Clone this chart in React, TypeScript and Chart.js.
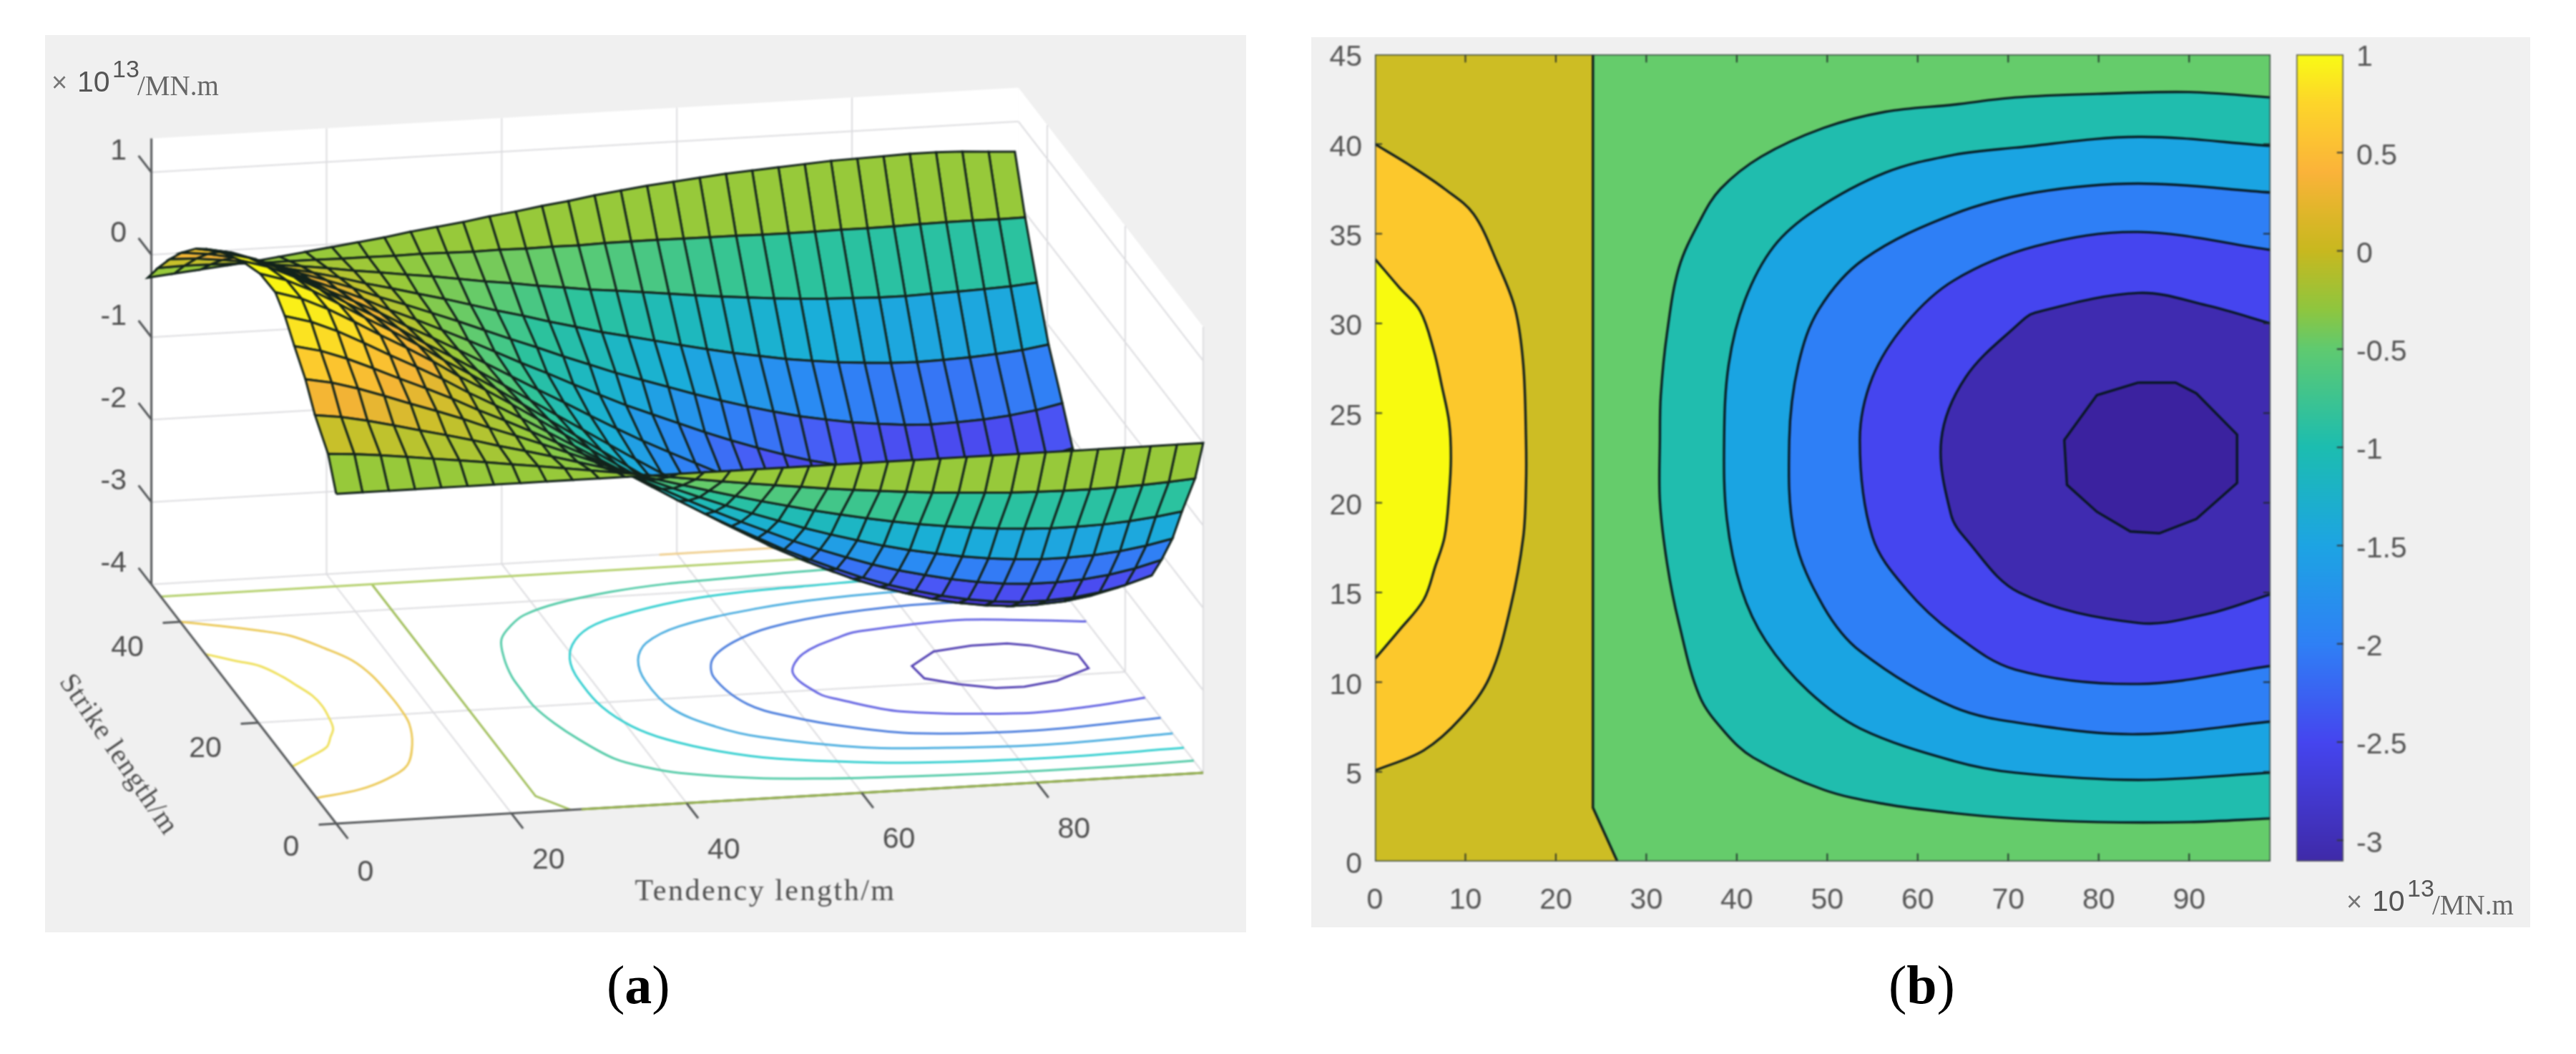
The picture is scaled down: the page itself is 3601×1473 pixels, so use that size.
import React, { useEffect, useRef } from "react";
import { Chart, registerables } from "chart.js";

Chart.register(...registerables);

// ---------- data ----------
const tendencyGrid = [0, 3, 6, 9, 12, 15, 18, 21, 24, 27, 30, 33, 36, 39, 42, 45, 48, 51, 54, 57, 60, 63, 66, 69, 72, 75, 78, 81, 84, 87, 90, 93, 96, 99];
const strikeGrid = [0, 3, 6, 9, 12, 15, 18, 21, 24, 27, 30, 33, 36, 39, 42, 45];
// moment along the mid strike line (x 10^13 MN.m)
const tendencyProfile = [1.4, 1.3, 1.15, 0.97, 0.78, 0.6, 0.41, 0.2, 0.01, -0.19, -0.4, -0.61, -0.82, -1.03, -1.24, -1.45, -1.65, -1.84, -2.02, -2.2, -2.36, -2.51, -2.65, -2.77, -2.87, -2.96, -3.03, -3.08, -3.11, -3.11, -3.09, -3.04, -2.96, -2.85];
// share of that moment along the strike direction
const strikeProfile = [0, 0.215, 0.42, 0.6, 0.755, 0.885, 0.96, 0.995, 0.995, 0.96, 0.885, 0.755, 0.6, 0.42, 0.215, 0];
// how far the far edge of the drawn surface sits above its true height
const farEdgeLift = [-0.13, -0.1, -0.07, -0.04, -0.01, 0.03, 0.07, 0.11, 0.15, 0.19, 0.24, 0.28, 0.32, 0.37, 0.41, 0.46, 0.5, 0.55, 0.59, 0.63, 0.66, 0.69, 0.72, 0.74, 0.76, 0.78, 0.8, 0.81, 0.82, 0.83, 0.83, 0.82, 0.8, 0.78];
const farEdgeShare = [0, 0, 0, 0, 0, 0, 0, 0.05, 0.25, 0.55, 0.8, 0.79, 0.9, 0.97, 1, 1];
const rowDrift = [0, 5, 3, 6, 7, 10, 13, 8, -2, -12, -19, -17, -20, -20, -20, -18];

const contourPlus1 = [[0, 33.6], [2.7, 32], [5, 30.7], [6.5, 28.5], [7.4, 26.5], [8.2, 24.5], [8.4, 22.5], [8.2, 20.5], [7.7, 18.1], [6.7, 16.5], [5.4, 14.6], [2.7, 12.9], [0, 11.3]];
const contourPlus05 = [[0, 40], [3.6, 38.9], [7.7, 37.5], [10.9, 36.1], [13.6, 33.3], [15.5, 30.8], [16.4, 27.7], [16.7, 23.5], [16.7, 21], [16.4, 18.1], [15, 14.2], [12.7, 10.3], [9.5, 8], [5.4, 6.2], [0, 5.07]];
const contourZero = [[24.1, 45], [24.1, 3], [26.8, 0]];
const contourMinus05 = [[99, 42.6], [90, 42.9], [79.9, 42.8], [70.8, 42.6], [64, 42.2], [56.4, 41.8], [49.6, 40.9], [42.7, 39.3], [38.2, 37.5], [35.9, 35.7], [33.6, 33.1], [32.3, 29.5], [31.6, 26], [31.5, 23.5], [31.5, 20.1], [32.3, 16.6], [33.6, 13.3], [35.9, 9.2], [38.7, 7.2], [41.8, 5.8], [49.6, 4], [56.4, 3.2], [64, 2.7], [70.8, 2.4], [79.9, 2.2], [90, 2.2], [99, 2.4]];
const contourMinus1 = [[99, 39.9], [84.4, 40.4], [70.8, 39.8], [64, 39.4], [56.4, 38.4], [48.6, 36.3], [44.1, 34.3], [40.9, 31.3], [39.1, 27.7], [38.6, 23.5], [38.9, 19.1], [40.5, 15.2], [43.2, 12.3], [47.9, 9.5], [53.7, 7.4], [64, 5.6], [70.8, 4.95], [84.4, 4.55], [99, 4.95]];
const contourMinus15 = [[99, 37.3], [84.4, 37.8], [73, 37.3], [64, 36.1], [54.1, 33.6], [49.1, 30.8], [46.8, 27.7], [45.8, 23.5], [46.4, 18.1], [49.6, 14.2], [53.7, 11.7], [64, 8.6], [73, 7.6], [84.4, 7.1], [99, 7.8]];
const contourMinus2 = [[99, 34.1], [84.4, 35.1], [73, 34.3], [64, 32.4], [58.7, 30], [55, 27], [53.6, 23.5], [55, 18.1], [58.7, 15.2], [64, 12.7], [70.8, 10.7], [84.4, 9.9], [99, 10.9]];
const contourMinus25 = [[99, 30], [92, 31], [84.4, 31.7], [73, 30.6], [71.2, 30], [65.3, 27], [62.6, 23.5], [63.7, 19.3], [65.3, 18], [71.2, 15], [84.4, 13.3], [92, 13.8], [99, 14.9]];
const contourMinus3 = [[84.4, 26.7], [88.5, 26.7], [90.8, 26.1], [95.3, 23.8], [95.3, 21.1], [90.8, 19.1], [86.7, 18.3], [83.5, 18.4], [79.8, 19.5], [76.5, 21], [76.2, 23.5], [79.8, 26], [84.4, 26.7]];

const xTicksA = [0, 20, 40, 60, 80];
const yTicksA = [0, 20, 40];
const zTicksA = [1, 0, -1, -2, -3, -4];
const colorbarTicks = [1, 0.5, 0, -0.5, -1, -1.5, -2, -2.5, -3];
const xTicksB = [10, 20, 30, 40, 50, 60, 70, 80, 90];
const yTicksB = [5, 10, 15, 20, 25, 30, 35, 40];

// ---------- colours ----------
const surfaceStops: [number, string][] = [[1.4, "#f8f80f"], [1.1, "#fbe81f"], [0.8, "#fcc62f"], [0.55, "#f3b335"], [0.3, "#c8c02a"], [0, "#97c93a"], [-0.3, "#5fcb70"], [-0.6, "#2dc39b"], [-0.9, "#1eb9bb"], [-1.2, "#1aaed9"], [-1.7, "#2b88f5"], [-2.15, "#4a58f5"], [-2.6, "#4a3be8"], [-3.15, "#3f2aa8"]];
const barStops: [number, string][] = [[1, "#f9fb15"], [0.75, "#fdd52a"], [0.4, "#fbb33a"], [0.2, "#e0b62a"], [0, "#c8b81f"], [-0.3, "#8ec63f"], [-0.5, "#5fca70"], [-1, "#1cbdb0"], [-1.5, "#1da4e3"], [-2, "#2f80f5"], [-2.5, "#4545ef"], [-3.108, "#3f2aa8"]];

const hex = (c: string) => [1, 3, 5].map((i) => parseInt(c.slice(i, i + 2), 16));
function surfaceColor(v: number) {
  const s = surfaceStops;
  if (v >= s[0][0]) return s[0][1];
  for (let i = 1; i < s.length; i++) {
    if (v >= s[i][0]) {
      const t = (v - s[i][0]) / (s[i - 1][0] - s[i][0]);
      const a = hex(s[i][1]);
      const b = hex(s[i - 1][1]);
      return `rgb(${a.map((n, k) => Math.round(n + (b[k] - n) * t)).join(",")})`;
    }
  }
  return s[s.length - 1][1];
}

// ---------- 3D view of panel (a) ----------
const BACK_Y = 47.4;
const TOP_Z = 1.41;
const proj = (x: number, y: number, z: number) => ({
  x: 470 + x * 12.242 - y * 5.45,
  y: 1151 - x * 0.717 - y * 7.05 - (z + 4) * 115.2,
});

const shape = (data: any[], fillColor: string | null, stroke: string, width: number, tension = 0) => ({
  data,
  showLine: true,
  pointRadius: 0,
  pointHoverRadius: 0,
  tension,
  fill: false,
  borderColor: stroke,
  borderWidth: width,
  polyFill: fillColor,
});

const polygonFill = {
  id: "polygonFill",
  beforeDatasetDraw(chart: any, args: any) {
    const ds = chart.data.datasets[args.index];
    const line = chart.getDatasetMeta(args.index).dataset;
    if (ds.tension) line.updateControlPoints(chart.chartArea, "x");
    if (!ds.polyFill) return;
    const ctx = chart.ctx;
    ctx.save();
    ctx.beginPath();
    line.path(ctx);
    ctx.closePath();
    ctx.fillStyle = ds.polyFill;
    ctx.fill();
    ctx.restore();
  },
};

const GRID = "#dcdcdf";
const AXIS = "#55585a";
const SMOOTH = 0.35;

function panelADatasets() {
  const list: any[] = [];
  const wall = (a: number[], b: number[], c: number[], d: number[]) =>
    list.push(shape([a, b, c, d].map((p) => proj(p[0], p[1], p[2])), "#ffffff", "rgba(0,0,0,0)", 0));
  wall([0, BACK_Y, -4], [99, BACK_Y, -4], [99, BACK_Y, TOP_Z], [0, BACK_Y, TOP_Z]);
  wall([99, BACK_Y, -4], [99, 0, -4], [99, 0, TOP_Z], [99, BACK_Y, TOP_Z]);
  wall([0, 0, -4], [99, 0, -4], [99, BACK_Y, -4], [0, BACK_Y, -4]);

  const seg = (a: number[], b: number[], color: string, w: number) =>
    list.push(shape([proj(a[0], a[1], a[2]), proj(b[0], b[1], b[2])], null, color, w));

  for (const x of xTicksA.slice(1)) {
    seg([x, BACK_Y, -4], [x, BACK_Y, TOP_Z], GRID, 2);
    seg([x, 0, -4], [x, BACK_Y, -4], GRID, 2);
  }
  for (const y of yTicksA) {
    seg([99, y, -4], [99, y, TOP_Z], GRID, 2);
    if (y > 0) seg([0, y, -4], [99, y, -4], GRID, 2);
  }
  for (const z of zTicksA) {
    seg([0, BACK_Y, z], [99, BACK_Y, z], GRID, 2);
    seg([99, BACK_Y, z], [99, 0, z], GRID, 2);
  }

  // floor contours
  const floor = (line: number[][], color: string, tension = SMOOTH) =>
    list.push(shape(line.map((p) => proj(p[0], p[1], -4)), null, color, 3, tension));
  floor(contourPlus1, "#efe05c");
  floor(contourPlus05, "#ecca5a");
  floor(contourZero, "#a3c05e", 0);
  floor([[0, 45], [99, 45]], "#b4d06c", 0);
  floor(contourMinus05, "#54cba8");
  floor(contourMinus1, "#35cfd0");
  floor(contourMinus15, "#4caee0");
  floor(contourMinus2, "#4c7edd");
  floor(contourMinus25, "#6464e2");
  floor(contourMinus3, "#5240b2", 0);
  floor([[58, BACK_Y], [76, BACK_Y]], "#f0d090", 0);

  // axes
  seg([0, 0, -4], [99, 0, -4], AXIS, 3);
  floor([[28, 0], [99, 0]], "#93b04a", 0);
  seg([0, 0, -4], [0, BACK_Y, -4], AXIS, 3);
  seg([0, BACK_Y, -4], [0, BACK_Y, TOP_Z], AXIS, 3);
  for (const x of xTicksA) seg([x, 0, -4], [x, -3, -4], AXIS, 3);
  for (const y of yTicksA) seg([0, y, -4], [-2, y, -4], AXIS, 3);
  for (const z of zTicksA) seg([0, BACK_Y, z], [0, BACK_Y + 3.3, z], AXIS, 3);

  // surface, far cells first
  const height = (i: number, j: number) => tendencyProfile[i] * strikeProfile[j] + farEdgeLift[i] * farEdgeShare[j];
  const vertex = (i: number, j: number) => {
    const p = proj(tendencyGrid[i], strikeGrid[j], height(i, j));
    return { x: p.x + rowDrift[j], y: p.y };
  };
  const cells: { key: number; i: number; j: number }[] = [];
  for (let i = 0; i < tendencyGrid.length - 1; i++) {
    for (let j = 0; j < strikeGrid.length - 1; j++) {
      const p = proj((tendencyGrid[i] + tendencyGrid[i + 1]) / 2, (strikeGrid[j] + strikeGrid[j + 1]) / 2, -4);
      cells.push({ key: p.y, i, j });
    }
  }
  cells.sort((a, b) => a.key - b.key);
  for (const { i, j } of cells) {
    const outer = j < 7.5 ? j : j + 1;
    const v = tendencyProfile[i] * strikeProfile[outer];
    const a = vertex(i, j);
    list.push(shape([a, vertex(i + 1, j), vertex(i + 1, j + 1), vertex(i, j + 1), a], surfaceColor(v), "#13231c", 3));
  }
  return list.reverse(); // the first dataset is painted last
}

const panelAText = {
  id: "panelAText",
  afterDatasetsDraw(chart: any) {
    const { ctx, scales } = chart;
    const put = (t: string, px: number, py: number, align: CanvasTextAlign = "center") => {
      ctx.textAlign = align;
      ctx.fillText(t, scales.x.getPixelForValue(px), scales.y.getPixelForValue(py));
    };
    ctx.save();
    ctx.fillStyle = "#4f4f4f";
    ctx.textBaseline = "middle";
    ctx.font = '41px "Liberation Sans"';
    for (const z of zTicksA) {
      const p = proj(0, BACK_Y, z);
      put(String(z), 177, p.y - 29, "right");
    }
    for (const x of xTicksA) {
      const p = proj(x, 0, -4);
      put(String(x), p.x + (x === 0 ? 41 : 52), p.y + (x === 0 ? 69 : 66));
    }
    for (const y of yTicksA) {
      const p = proj(0, y, -4);
      put(String(y), p.x + (y === 0 ? -63 : -74), p.y + (y === 0 ? 34 : 37));
    }
    ctx.font = '42px "Liberation Serif"';
    (ctx as any).letterSpacing = "2.5px";
    put("Tendency length/m", 1070, 1247);
    ctx.translate(165, 1055);
    ctx.rotate((55.5 * Math.PI) / 180);
    ctx.textAlign = "center";
    (ctx as any).letterSpacing = "1px";
    ctx.font = '40px "Liberation Serif"';
    ctx.fillText("Strike length/m", 0, 0);
    ctx.restore();
  },
};

const LINE = "rgba(6,22,28,0.95)";

function panelBDatasets() {
  const pts = (line: number[][]) => line.map((p) => ({ x: p[0], y: p[1] }));
  const list: any[] = [];
  const rect = [[0, 0], [99, 0], [99, 45], [0, 45], [0, 0]];
  list.push(shape(pts(rect), "#cdbd24", "rgba(0,0,0,0)", 0));
  list.push(shape(pts(contourPlus05), "#fcc82c", LINE, 3.4, SMOOTH));
  list.push(shape(pts(contourPlus1), "#f8fa0f", LINE, 3.4, SMOOTH));
  list.push(shape(pts([...contourZero, [99, 0], [99, 45]]), "#65cc6b", "rgba(0,0,0,0)", 0));
  list.push(shape(pts(contourZero), null, LINE, 3.4));
  list.push(shape(pts(contourMinus05), "#20bdae", LINE, 3.4, SMOOTH));
  list.push(shape(pts(contourMinus1), "#1aa4e2", LINE, 3.4, SMOOTH));
  list.push(shape(pts(contourMinus15), "#2e7ff6", LINE, 3.4, SMOOTH));
  list.push(shape(pts(contourMinus2), "#4545ef", LINE, 3.4, SMOOTH));
  list.push(shape(pts(contourMinus25), "#3f2bb0", LINE, 3.4, SMOOTH));
  list.push(shape(pts(contourMinus3), "#3b229f", LINE, 3.4));
  const TICK = "rgba(30,40,40,0.9)";
  for (const x of xTicksB) {
    list.push(shape(pts([[x, 0], [x, 0.45]]), null, TICK, 2));
    list.push(shape(pts([[x, 45], [x, 44.55]]), null, TICK, 2));
  }
  for (const y of yTicksB) {
    list.push(shape(pts([[0, y], [0.8, y]]), null, TICK, 2));
    list.push(shape(pts([[99, y], [98.2, y]]), null, TICK, 2));
  }
  list.push(shape(pts(rect), null, "#3c4a44", 3));
  return list.reverse();
}

const hidden = { legend: { display: false }, tooltip: { enabled: false } };
const tickFont = { family: '"Liberation Sans"', size: 41 };

const Txt = ({ l, t, s, f, c, children }: any) => (
  <div style={{ position: "absolute", left: l, top: t, fontSize: s, fontFamily: f, color: c, lineHeight: 1, whiteSpace: "nowrap", filter: "blur(0.7px)" }}>{children}</div>
);
const SANS = '"Liberation Sans"';
const SERIF = '"Liberation Serif"';

const Unit = ({ x, y }: { x: number; y: number }) => (
  <>
    <Txt l={x} t={y + 2} s={38} f={SANS} c="#777">×</Txt>
    <Txt l={x + 36} t={y} s={41} f={SANS} c="#555">10</Txt>
    <Txt l={x + 85} t={y - 15} s={34} f={SANS} c="#555">13</Txt>
    <Txt l={x + 120} t={y + 6} s={39} f={SERIF} c="#666">/MN.m</Txt>
  </>
);

export default function App() {
  const a = useRef<HTMLCanvasElement>(null);
  const b = useRef<HTMLCanvasElement>(null);
  const c = useRef<HTMLCanvasElement>(null);

  useEffect(() => {
    const chartA = new Chart(a.current as any, {
      type: "scatter",
      data: { datasets: panelADatasets() },
      plugins: [polygonFill, panelAText],
      options: {
        animation: false,
        responsive: false,
        events: [],
        layout: { padding: 0 },
        plugins: hidden,
        scales: {
          x: { type: "linear", min: 0, max: 1800, display: false },
          y: { type: "linear", min: 0, max: 1473, reverse: true, display: false },
        },
      },
    } as any);

    const chartB = new Chart(b.current as any, {
      type: "scatter",
      data: { datasets: panelBDatasets() },
      plugins: [polygonFill],
      options: {
        animation: false,
        responsive: false,
        events: [],
        layout: { padding: { top: 27, right: 16, left: 0, bottom: 0 } },
        plugins: hidden,
        scales: {
          x: {
            type: "linear", min: 0, max: 99,
            afterFit: (s: any) => { s.height = 89; s.paddingLeft = 0; s.paddingRight = 0; },
            grid: { display: false, drawTicks: false }, border: { display: false },
            ticks: { stepSize: 10, includeBounds: false, autoSkip: false, maxRotation: 0, padding: 30, color: "#555", font: tickFont, callback: (v: any) => String(v) },
          },
          y: {
            type: "linear", min: 0, max: 45,
            afterFit: (s: any) => { s.width = 89; s.paddingTop = 0; s.paddingBottom = 0; },
            grid: { display: false, drawTicks: false }, border: { display: false },
            ticks: { stepSize: 5, autoSkip: false, padding: 18, labelOffset: 5, color: "#555", font: tickFont, callback: (v: any) => String(v) },
          },
        },
      },
    } as any);

    const ctxC = (c.current as HTMLCanvasElement).getContext("2d") as CanvasRenderingContext2D;
    const grad = ctxC.createLinearGradient(0, 27, 0, 27 + 1128);
    const span = 1 + 3.108;
    for (const [v, col] of barStops) grad.addColorStop((1 - v) / span, col);
    const frame = [{ x: 0, y: -3.108 }, { x: 1, y: -3.108 }, { x: 1, y: 1 }, { x: 0, y: 1 }, { x: 0, y: -3.108 }];
    const barSets: any[] = [shape(frame, grad as any, "#55585a", 3)];
    for (const v of colorbarTicks.slice(1)) {
      barSets.unshift(shape([{ x: 1, y: v }, { x: 0.86, y: v }], null, "#33383a", 2));
    }
    const chartC = new Chart(c.current as any, {
      type: "scatter",
      data: { datasets: barSets },
      plugins: [polygonFill],
      options: {
        animation: false,
        responsive: false,
        events: [],
        layout: { padding: { top: 27, left: 20, right: 0, bottom: 30 } },
        plugins: hidden,
        scales: {
          x: { type: "linear", min: 0, max: 1, display: false },
          y: {
            type: "linear", position: "right", min: -3.108, max: 1,
            afterFit: (s: any) => { s.width = 134; s.paddingTop = 0; s.paddingBottom = 0; },
            grid: { display: false, drawTicks: false }, border: { display: false },
            ticks: { stepSize: 0.5, includeBounds: false, autoSkip: false, padding: 18, labelOffset: 5, color: "#555", font: tickFont, callback: (v: any) => String(v) },
          },
        },
      },
    } as any);

    return () => {
      chartA.destroy();
      chartB.destroy();
      chartC.destroy();
    };
  }, []);

  const blur = "blur(0.9px)";
  return (
    <div style={{ position: "absolute", left: 0, top: 0, width: 3601, height: 1473, overflow: "hidden", background: "#fff" }}>
      <div style={{ position: "absolute", left: 63, top: 49, width: 1679, height: 1254, background: "#f0f0f0" }} />
      <div style={{ position: "absolute", left: 1833, top: 52, width: 1704, height: 1244, background: "#f0f0f0" }} />
      <canvas ref={a} width={1800} height={1473} style={{ position: "absolute", left: 0, top: 0, filter: blur }} />
      <canvas ref={b} width={1357} height={1244} style={{ position: "absolute", left: 1833, top: 49, filter: blur }} />
      <canvas ref={c} width={220} height={1185} style={{ position: "absolute", left: 3190, top: 49, filter: blur }} />
      <Unit x={72} y={94} />
      <Unit x={3280} y={1239} />
      <Txt l={848} t={1338} s={76} f={SERIF} c="#000">(<b>a</b>)</Txt>
      <Txt l={2640} t={1338} s={76} f={SERIF} c="#000">(<b>b</b>)</Txt>
    </div>
  );
}
